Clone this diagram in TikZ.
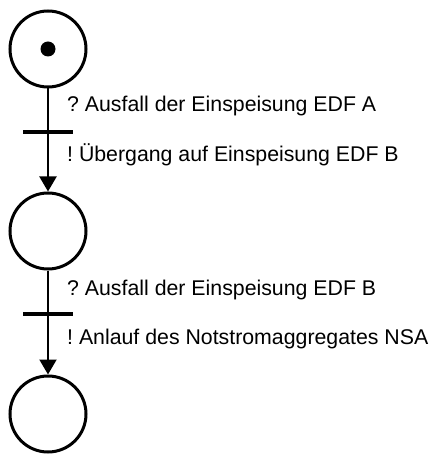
\documentclass[tikz,border=0pt]{standalone}
\usepackage{fontspec}
\setmainfont{Liberation Sans}
\usetikzlibrary{arrows.meta}
\frenchspacing
\tikzset{
  place/.style={circle, draw, line width=3pt, minimum size=76pt, inner sep=0pt},
  token/.style={circle, fill, minimum size=15pt, inner sep=0pt},
  trans/.style={fill, minimum width=50pt, minimum height=4pt, inner sep=0pt},
  arc/.style={line width=2pt},
  lab/.style={anchor=base west, inner sep=0pt, font=\fontsize{21.3}{25}\selectfont}
}
\begin{document}
\begin{tikzpicture}[x=1pt,y=-1pt]
\useasboundingbox (0,0) rectangle (430,454);
% places and transitions
\node[place] (p1) at (48,49) {};
\node[token] (tok) at (p1) {};
\node[trans] (t1) at (48,132) {};
\node[place] (p2) at (48,231) {};
\node[trans] (t2) at (48,314) {};
\node[place] (p3) at (48,414) {};
% arcs
\draw [arc] (p1) -- (t1);
\draw [arc,-{Triangle[width=17pt,length=15pt]}] (t1) -- (p2);
\draw [arc] (p2) -- (t2);
\draw [arc,-{Triangle[width=17pt,length=15pt]}] (t2) -- (p3);
% conditions and actions
\node[lab] (c1) at (67,112) {? Ausfall der Einspeisung EDF A};
\node[lab] (a1) at (67,162) {! Übergang auf Einspeisung EDF B};
\node[lab] (c2) at (67,295) {? Ausfall der Einspeisung EDF B};
\node[lab] (a2) at (67,344) {! Anlauf des Notstromaggregates NSA};
\end{tikzpicture}
\end{document}
